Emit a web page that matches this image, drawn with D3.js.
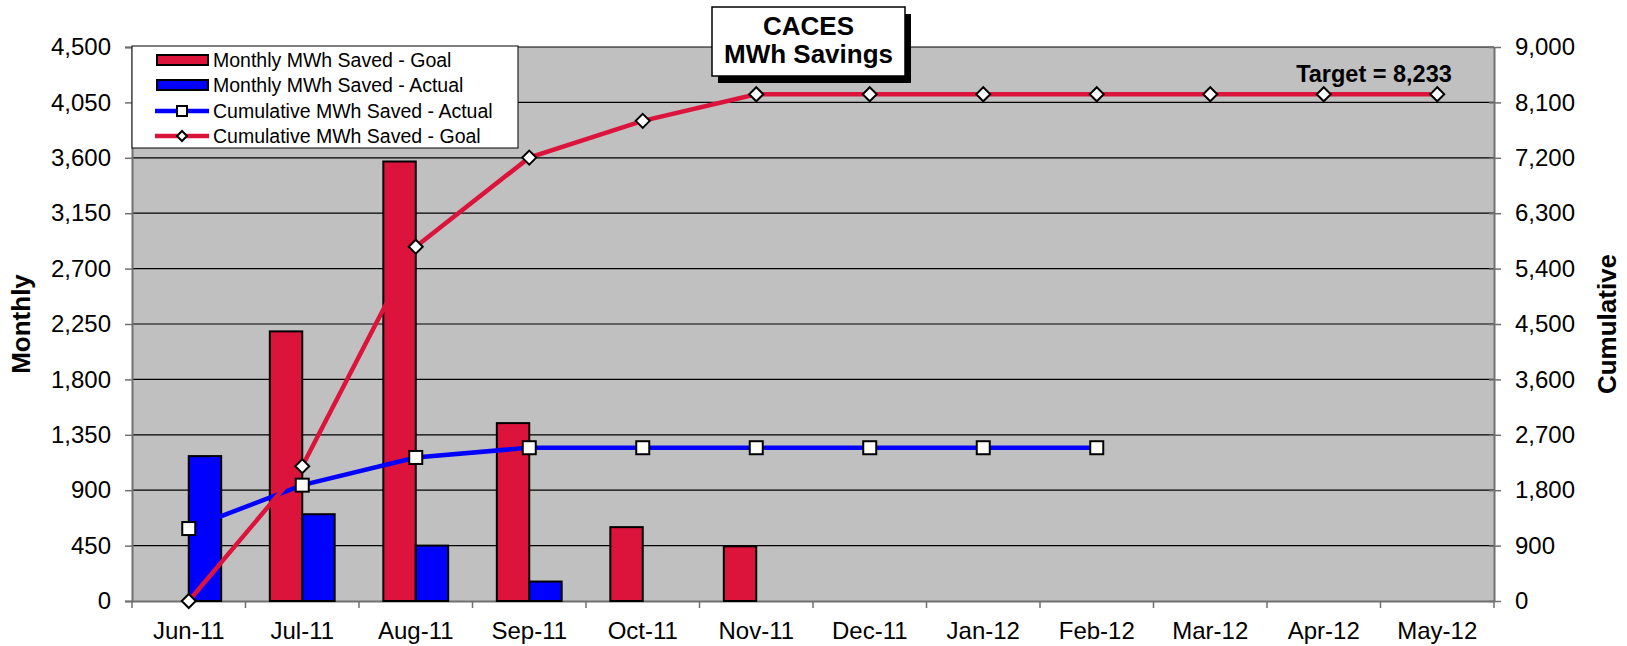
<!DOCTYPE html>
<html lang="en">
<head>
<meta charset="UTF-8">
<title>CACES MWh Savings</title>
<script src="https://d3js.org/d3.v7.min.js"></script>
<style>
  body { margin: 0; background: #ffffff; }
  text { font-family: "Liberation Sans", Arial, sans-serif; fill: #000; }
</style>
</head>
<body>
<div id="chart"></div>
<script>
// data
var months = ["Jun-11","Jul-11","Aug-11","Sep-11","Oct-11","Nov-11","Dec-11","Jan-12","Feb-12","Mar-12","Apr-12","May-12"];
var goalMonthly   = [null, 2190, 3570, 1445, 600, 444, null, null, null, null, null, null];
var actualMonthly = [1177, 705, 450, 158, null, null, null, null, null, null, null, null];
var cumActual = [1177, 1882, 2332, 2490, 2490, 2490, 2490, 2490, 2490, null, null, null];
var cumGoal   = [0, 2190, 5756, 7203, 7800, 8233, 8233, 8233, 8233, 8233, 8233, 8233];
var leftTicks  = [0, 450, 900, 1350, 1800, 2250, 2700, 3150, 3600, 4050, 4500];
var rightTicks = [0, 900, 1800, 2700, 3600, 4500, 5400, 6300, 7200, 8100, 9000];
var legendLabels = ["Monthly MWh Saved - Goal","Monthly MWh Saved - Actual","Cumulative MWh Saved - Actual","Cumulative MWh Saved - Goal"];

var red = "#DC143C", blue = "#0000FF";
var W = 1627, H = 646;
var L = 132, R = 1494, T = 47, B = 601;

var svg = d3.select("#chart").append("svg").attr("width", W).attr("height", H);

var x = d3.scaleBand().domain(months).range([L, R]).padding(0);
var yL = d3.scaleLinear().domain([0, 4500]).range([B, T]);
var yR = d3.scaleLinear().domain([0, 9000]).range([B, T]);
var bw = x.bandwidth() / 3.5;
var fmt = d3.format(",");

// plot area
svg.append("rect").attr("x", L).attr("y", T).attr("width", R - L).attr("height", B - T)
    .attr("fill", "#C0C0C0");

// gridlines
svg.append("g").selectAll("line").data(leftTicks.slice(1)).enter().append("line")
    .attr("x1", L).attr("x2", R)
    .attr("y1", function(d) { return yL(d); }).attr("y2", function(d) { return yL(d); })
    .attr("stroke", "#000").attr("stroke-width", 1.2);

// left axis
var axL = svg.append("g").attr("transform", "translate(" + L + ",0)")
    .call(d3.axisLeft(yL).tickValues(leftTicks).tickFormat(fmt).tickSize(7).tickPadding(14));
// right axis
var axR = svg.append("g").attr("transform", "translate(" + R + ",0)")
    .call(d3.axisRight(yR).tickValues(rightTicks).tickFormat(fmt).tickSizeInner(7).tickSizeOuter(0).tickPadding(14));
axR.selectAll(".tick line").attr("x1", -5);
// bottom axis
var axB = svg.append("g").attr("transform", "translate(0," + B + ")")
    .call(d3.axisBottom(x).tickSize(0).tickPadding(21));
axB.selectAll(".tick").each(function(d) {
    d3.select(this).append("line").attr("x1", -x.bandwidth() / 2).attr("x2", -x.bandwidth() / 2)
        .attr("y1", 0).attr("y2", 7);
});
axB.append("line").attr("x1", R).attr("x2", R).attr("y1", 0).attr("y2", 7);

[axL, axR, axB].forEach(function(a) {
    a.selectAll(".domain").attr("stroke", "#707070").attr("stroke-width", 2);
    a.selectAll("line").attr("stroke", "#707070").attr("stroke-width", 1.5);
    a.selectAll("text").attr("font-size", "24px").attr("fill", "#000")
        .attr("font-family", "Liberation Sans, Arial, sans-serif");
});

// bars
var bars = svg.append("g");
bars.selectAll(".g").data(months).enter().filter(function(d, i) { return goalMonthly[i] != null; })
    .append("rect")
    .attr("x", function(d) { return x(d) + x.bandwidth() / 2 - bw; })
    .attr("y", function(d) { return yL(goalMonthly[months.indexOf(d)]); })
    .attr("width", bw)
    .attr("height", function(d) { return B - yL(goalMonthly[months.indexOf(d)]); })
    .attr("fill", red).attr("stroke", "#000").attr("stroke-width", 2);
bars.selectAll(".a").data(months).enter().filter(function(d, i) { return actualMonthly[i] != null; })
    .append("rect")
    .attr("x", function(d) { return x(d) + x.bandwidth() / 2; })
    .attr("y", function(d) { return yL(actualMonthly[months.indexOf(d)]); })
    .attr("width", bw)
    .attr("height", function(d) { return B - yL(actualMonthly[months.indexOf(d)]); })
    .attr("fill", blue).attr("stroke", "#000").attr("stroke-width", 2);

function cx(i) { return x(months[i]) + x.bandwidth() / 2; }

// cumulative actual
var actPts = cumActual.map(function(v, i) { return [i, v]; }).filter(function(p) { return p[1] != null; });
svg.append("path").datum(actPts)
    .attr("d", d3.line().x(function(p) { return cx(p[0]); }).y(function(p) { return yR(p[1]); }))
    .attr("fill", "none").attr("stroke", blue).attr("stroke-width", 4.5);

// cumulative goal
var goalPts = cumGoal.map(function(v, i) { return [i, v]; });
svg.append("path").datum(goalPts)
    .attr("d", d3.line().x(function(p) { return cx(p[0]); }).y(function(p) { return yR(p[1]); }))
    .attr("fill", "none").attr("stroke", red).attr("stroke-width", 4.5);

svg.append("g").selectAll("rect").data(actPts).enter().append("rect")
    .attr("x", function(p) { return cx(p[0]) - 6.5; })
    .attr("y", function(p) { return yR(p[1]) - 6.5; })
    .attr("width", 13).attr("height", 13)
    .attr("fill", "#fff").attr("stroke", "#000").attr("stroke-width", 2);

var diamond = "M0,-7L7,0L0,7L-7,0Z";
svg.append("g").selectAll("path").data(goalPts).enter().append("path")
    .attr("d", diamond)
    .attr("transform", function(p) { return "translate(" + cx(p[0]) + "," + yR(p[1]) + ")"; })
    .attr("fill", "#fff").attr("stroke", "#000").attr("stroke-width", 2);

// axis titles
svg.append("text").attr("transform", "translate(30,324) rotate(-90)")
    .attr("text-anchor", "middle").attr("font-size", "26px").attr("font-weight", "bold")
    .text("Monthly");
svg.append("text").attr("transform", "translate(1616,324) rotate(-90)")
    .attr("text-anchor", "middle").attr("font-size", "26px").attr("font-weight", "bold")
    .text("Cumulative");

// target label
svg.append("text").attr("x", 1374).attr("y", 82).attr("text-anchor", "middle")
    .attr("font-size", "23.5px").attr("font-weight", "bold")
    .text("Target = " + fmt(cumGoal[cumGoal.length - 1]));

// title box
svg.append("rect").attr("x", 718).attr("y", 14).attr("width", 193).attr("height", 69).attr("fill", "#000");
svg.append("rect").attr("x", 712).attr("y", 7).attr("width", 193).attr("height", 69)
    .attr("fill", "#fff").attr("stroke", "#000").attr("stroke-width", 1.5);
svg.append("text").attr("x", 808.5).attr("y", 35).attr("text-anchor", "middle")
    .attr("font-size", "26px").attr("font-weight", "bold").text("CACES");
svg.append("text").attr("x", 808.5).attr("y", 63).attr("text-anchor", "middle")
    .attr("font-size", "26px").attr("font-weight", "bold").text("MWh Savings");

// legend
var lg = svg.append("g");
lg.append("rect").attr("x", 132).attr("y", 46).attr("width", 386).attr("height", 102)
    .attr("fill", "#fff").attr("stroke", "#000").attr("stroke-width", 1);
var rows = [60, 85, 111, 136];
lg.append("rect").attr("x", 157).attr("y", rows[0] - 5).attr("width", 51).attr("height", 10)
    .attr("fill", red).attr("stroke", "#000").attr("stroke-width", 2);
lg.append("rect").attr("x", 157).attr("y", rows[1] - 5).attr("width", 51).attr("height", 10)
    .attr("fill", blue).attr("stroke", "#000").attr("stroke-width", 2);
lg.append("line").attr("x1", 155).attr("x2", 209).attr("y1", rows[2]).attr("y2", rows[2])
    .attr("stroke", blue).attr("stroke-width", 4.5);
lg.append("rect").attr("x", 177).attr("y", rows[2] - 5).attr("width", 10).attr("height", 10)
    .attr("fill", "#fff").attr("stroke", "#000").attr("stroke-width", 2);
lg.append("line").attr("x1", 155).attr("x2", 209).attr("y1", rows[3]).attr("y2", rows[3])
    .attr("stroke", red).attr("stroke-width", 4.5);
lg.append("path").attr("d", "M0,-5L5,0L0,5L-5,0Z").attr("transform", "translate(182," + rows[3] + ")")
    .attr("fill", "#fff").attr("stroke", "#000").attr("stroke-width", 2);
lg.selectAll(".lt").data(legendLabels).enter().append("text")
    .attr("x", 213).attr("y", function(d, i) { return rows[i] + 7; })
    .attr("font-size", "19.5px").text(function(d) { return d; });
</script>
</body>
</html>
